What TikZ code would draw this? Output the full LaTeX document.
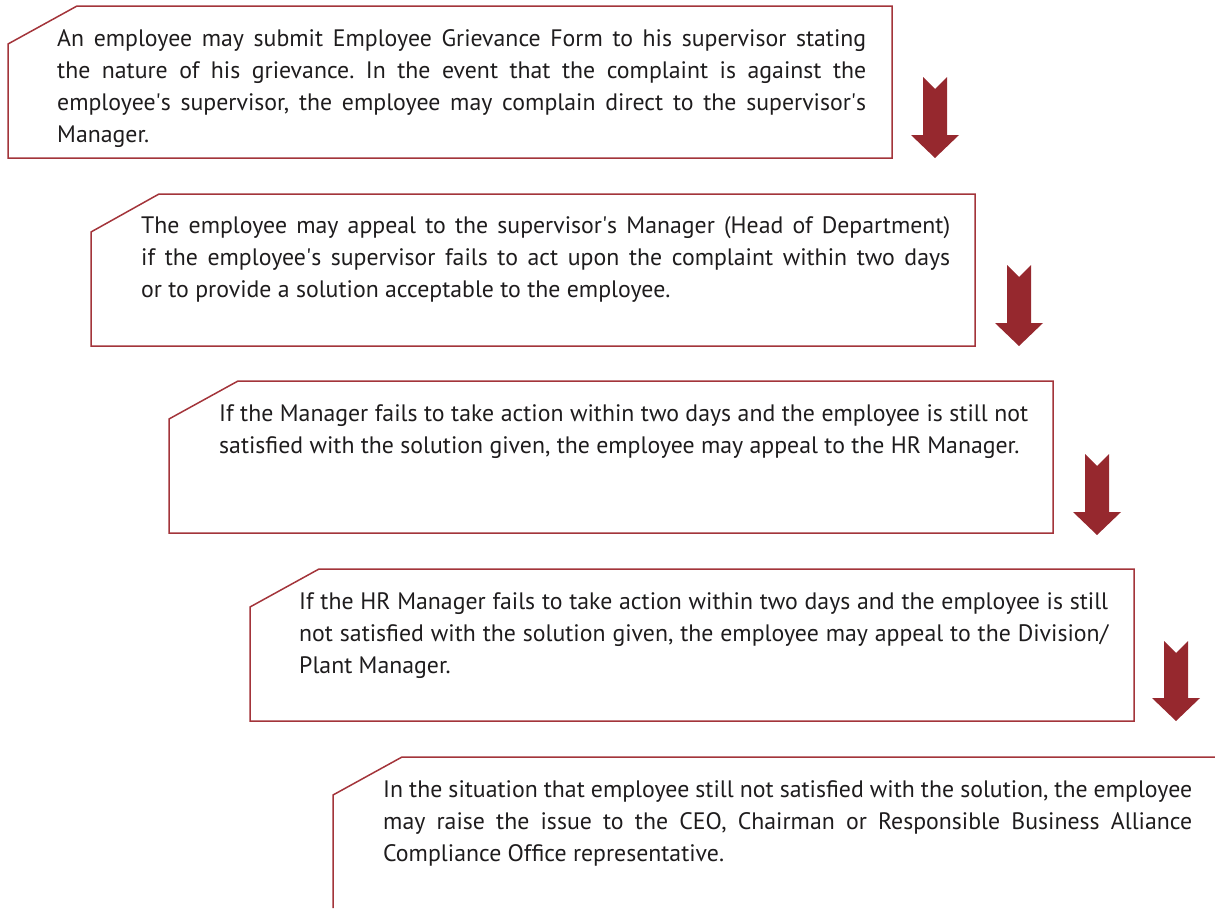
\documentclass[tikz,border=0pt]{standalone}
\usepackage{fontspec}
\setmainfont{PT Sans}
\usepackage{tikz}
\usetikzlibrary{positioning,calc}

\definecolor{boxred}{RGB}{163,52,58}
\definecolor{arrowred}{RGB}{150,40,46}
\definecolor{inktext}{RGB}{30,28,29}

\newcommand{\apos}{\textquotesingle}

\tikzset{
  stepframe/.style={draw=boxred,line width=1.5pt,line join=miter},
  steptext/.style={anchor=base west,inner sep=0pt,text width=809pt,align=justify,
    text=inktext,font=\fontsize{23.8}{32}\selectfont\frenchspacing},
  downarrow/.style={fill=arrowred,draw=none}
}

\begin{document}
\begin{tikzpicture}[x=1pt,y=-1pt]
\useasboundingbox (0,0) rectangle (1215,908);

        % frames with cut corner
        \draw[stepframe] (8,44) -- (77,6) -- (892,6) -- (892,158) -- (8,158) -- cycle;
        \draw[stepframe] (91,232) -- (159,194) -- (975,194) -- (975,346) -- (91,346) -- cycle;
        \draw[stepframe] (169,419) -- (238,381) -- (1053,381) -- (1053,533) -- (169,533) -- cycle;
        \draw[stepframe] (250,607) -- (319,569) -- (1134,569) -- (1134,721) -- (250,721) -- cycle;
        \draw[stepframe] (333,908) -- (333,795) -- (402,757) -- (1215,757);

        % texts
        \node[steptext] (grieve1) at (57,46) {An employee may submit Employee Grievance Form to his supervisor stating\linebreak
          the nature of his grievance. In the event that the complaint is against the\linebreak
          employee\apos s supervisor, the employee may complain direct to the supervisor\apos s\linebreak
          Manager.};
        \node[steptext] (grieve2) at (141,233) {The employee may appeal to the supervisor\apos s Manager (Head of Department)\linebreak
          if the employee\apos s supervisor fails to act upon the complaint within two days\linebreak
          or to provide a solution acceptable to the employee.};
        \node[steptext] (grieve3) at (219,421) {If the Manager fails to take action within two days and the employee is still not\linebreak
          satisfied with the solution given, the employee may appeal to the HR Manager.};
        \node[steptext] (grieve4) at (299,609) {If the HR Manager fails to take action within two days and the employee is still\linebreak
          not satisfied with the solution given, the employee may appeal to the Division/\linebreak
          Plant Manager.};
        \node[steptext] (grieve5) at (383,797) {In the situation that employee still not satisfied with the solution, the employee\linebreak
          may raise the issue to the CEO, Chairman or Responsible Business Alliance\linebreak
          Compliance Office representative.};

        % block arrows
        \fill[downarrow] (923,77) -- (935,89) -- (947,77) -- (947,135) -- (959,135) -- (935,158) -- (911,135) -- (923,135) -- cycle;
        \fill[downarrow] (1007,265) -- (1019,277) -- (1031,265) -- (1031,323) -- (1043,323) -- (1019,346) -- (995,323) -- (1007,323) -- cycle;
        \fill[downarrow] (1085,454) -- (1097,466) -- (1109,454) -- (1109,512) -- (1121,512) -- (1097,535) -- (1073,512) -- (1085,512) -- cycle;
        \fill[downarrow] (1164,641) -- (1176,653) -- (1188,641) -- (1188,698) -- (1200,698) -- (1176,721) -- (1152,698) -- (1164,698) -- cycle;

\end{tikzpicture}
\end{document}
